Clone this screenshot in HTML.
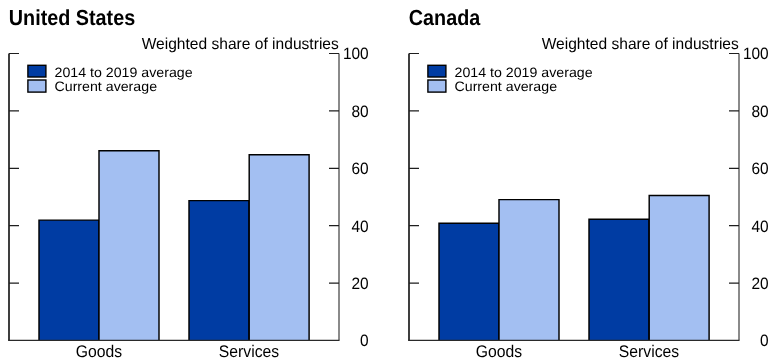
<!DOCTYPE html>
<html><head><meta charset="utf-8"><style>
html,body{margin:0;padding:0;background:#fff;width:777px;height:364px;overflow:hidden}
svg{display:block;font-family:"Liberation Sans",sans-serif;will-change:transform;text-rendering:geometricPrecision}
</style></head><body>
<svg width="777" height="364" viewBox="0 0 777 364">
<rect width="777" height="364" fill="#fff"/>
<text transform="translate(8.8 24.9) scale(1 1.1)" font-size="19.8" font-weight="bold" text-anchor="start">United States</text>
<text transform="translate(338.8 49) scale(1 1.02)" font-size="15.58" font-weight="normal" text-anchor="end">Weighted share of industries</text>
<rect x="39" y="220.1" width="60" height="120.2" fill="#003CA3"/>
<path d="M39 340.3 V220.1 H99.0 V340.3" fill="none" stroke="#000" stroke-width="1.45"/>
<rect x="99" y="150.7" width="60" height="189.6" fill="#A3BFF2"/>
<path d="M99 340.3 V150.7 H159.0 V340.3" fill="none" stroke="#000" stroke-width="1.45"/>
<rect x="189" y="200.6" width="60" height="139.7" fill="#003CA3"/>
<path d="M189 340.3 V200.6 H249.0 V340.3" fill="none" stroke="#000" stroke-width="1.45"/>
<rect x="249.2" y="154.7" width="59.9" height="185.6" fill="#A3BFF2"/>
<path d="M249.2 340.3 V154.7 H309.1 V340.3" fill="none" stroke="#000" stroke-width="1.45"/>
<path d="M9 53.5 V340.3" fill="none" stroke="#2a2a2a" stroke-width="1.8"/>
<path d="M8.1 340.3 H339.5" fill="none" stroke="#2a2a2a" stroke-width="1.25"/>
<path d="M339 53.5 V340.3" fill="none" stroke="#2a2a2a" stroke-width="1.1"/>
<path d="M9 53.5 H19 M329 53.5 H339" stroke="#1e1e1e" stroke-width="1.2"/>
<path d="M9 110.85 H19 M329 110.85 H339" stroke="#1e1e1e" stroke-width="1.2"/>
<path d="M9 168.3 H19 M329 168.3 H339" stroke="#1e1e1e" stroke-width="1.2"/>
<path d="M9 225.65 H19 M329 225.65 H339" stroke="#1e1e1e" stroke-width="1.2"/>
<path d="M9 283.2 H19 M329 283.2 H339" stroke="#1e1e1e" stroke-width="1.2"/>
<text transform="translate(368.7 59.35) scale(1.03 1.1)" font-size="15" font-weight="normal" text-anchor="end">100</text>
<text transform="translate(368.7 116.7) scale(1.03 1.1)" font-size="15" font-weight="normal" text-anchor="end">80</text>
<text transform="translate(368.7 174.15) scale(1.03 1.1)" font-size="15" font-weight="normal" text-anchor="end">60</text>
<text transform="translate(368.7 231.5) scale(1.03 1.1)" font-size="15" font-weight="normal" text-anchor="end">40</text>
<text transform="translate(368.7 289.05) scale(1.03 1.1)" font-size="15" font-weight="normal" text-anchor="end">20</text>
<text transform="translate(368.7 346.25) scale(1.03 1.1)" font-size="15" font-weight="normal" text-anchor="end">0</text>
<rect x="27.9" y="65.3" width="18" height="11.7" fill="#003CA3" stroke="#000" stroke-width="1.4"/>
<rect x="27.9" y="80.0" width="18" height="12.1" fill="#A3BFF2" stroke="#000" stroke-width="1.4"/>
<text transform="translate(54.5 76.8) scale(1 0.96)" font-size="14.2" font-weight="normal" text-anchor="start">2014 to 2019 average</text>
<text transform="translate(54.5 90.9) scale(1 0.96)" font-size="14.2" font-weight="normal" text-anchor="start">Current average</text>
<text transform="translate(99 356.5) scale(1 1.065)" font-size="15.75" font-weight="normal" text-anchor="middle">Goods</text>
<text transform="translate(249 356.5) scale(1 1.065)" font-size="15.75" font-weight="normal" text-anchor="middle">Services</text>
<text transform="translate(408.8 24.9) scale(1 1.1)" font-size="19.8" font-weight="bold" text-anchor="start">Canada</text>
<text transform="translate(738.8 49) scale(1 1.02)" font-size="15.58" font-weight="normal" text-anchor="end">Weighted share of industries</text>
<rect x="439" y="223.2" width="60" height="117.1" fill="#003CA3"/>
<path d="M439 340.3 V223.2 H499.0 V340.3" fill="none" stroke="#000" stroke-width="1.45"/>
<rect x="499" y="199.6" width="60" height="140.7" fill="#A3BFF2"/>
<path d="M499 340.3 V199.6 H559.0 V340.3" fill="none" stroke="#000" stroke-width="1.45"/>
<rect x="589" y="219.2" width="60" height="121.1" fill="#003CA3"/>
<path d="M589 340.3 V219.2 H649.0 V340.3" fill="none" stroke="#000" stroke-width="1.45"/>
<rect x="649.2" y="195.4" width="59.9" height="144.9" fill="#A3BFF2"/>
<path d="M649.2 340.3 V195.4 H709.1 V340.3" fill="none" stroke="#000" stroke-width="1.45"/>
<path d="M409 53.5 V340.3" fill="none" stroke="#2a2a2a" stroke-width="1.8"/>
<path d="M408.1 340.3 H739.5" fill="none" stroke="#2a2a2a" stroke-width="1.25"/>
<path d="M739 53.5 V340.3" fill="none" stroke="#2a2a2a" stroke-width="1.1"/>
<path d="M409 53.5 H419 M729 53.5 H739" stroke="#1e1e1e" stroke-width="1.2"/>
<path d="M409 110.85 H419 M729 110.85 H739" stroke="#1e1e1e" stroke-width="1.2"/>
<path d="M409 168.3 H419 M729 168.3 H739" stroke="#1e1e1e" stroke-width="1.2"/>
<path d="M409 225.65 H419 M729 225.65 H739" stroke="#1e1e1e" stroke-width="1.2"/>
<path d="M409 283.2 H419 M729 283.2 H739" stroke="#1e1e1e" stroke-width="1.2"/>
<text transform="translate(768.7 59.35) scale(1.03 1.1)" font-size="15" font-weight="normal" text-anchor="end">100</text>
<text transform="translate(768.7 116.7) scale(1.03 1.1)" font-size="15" font-weight="normal" text-anchor="end">80</text>
<text transform="translate(768.7 174.15) scale(1.03 1.1)" font-size="15" font-weight="normal" text-anchor="end">60</text>
<text transform="translate(768.7 231.5) scale(1.03 1.1)" font-size="15" font-weight="normal" text-anchor="end">40</text>
<text transform="translate(768.7 289.05) scale(1.03 1.1)" font-size="15" font-weight="normal" text-anchor="end">20</text>
<text transform="translate(768.7 346.25) scale(1.03 1.1)" font-size="15" font-weight="normal" text-anchor="end">0</text>
<rect x="427.9" y="65.3" width="18" height="11.7" fill="#003CA3" stroke="#000" stroke-width="1.4"/>
<rect x="427.9" y="80.0" width="18" height="12.1" fill="#A3BFF2" stroke="#000" stroke-width="1.4"/>
<text transform="translate(454.5 76.8) scale(1 0.96)" font-size="14.2" font-weight="normal" text-anchor="start">2014 to 2019 average</text>
<text transform="translate(454.5 90.9) scale(1 0.96)" font-size="14.2" font-weight="normal" text-anchor="start">Current average</text>
<text transform="translate(499 356.5) scale(1 1.065)" font-size="15.75" font-weight="normal" text-anchor="middle">Goods</text>
<text transform="translate(649 356.5) scale(1 1.065)" font-size="15.75" font-weight="normal" text-anchor="middle">Services</text>
</svg>
</body></html>
